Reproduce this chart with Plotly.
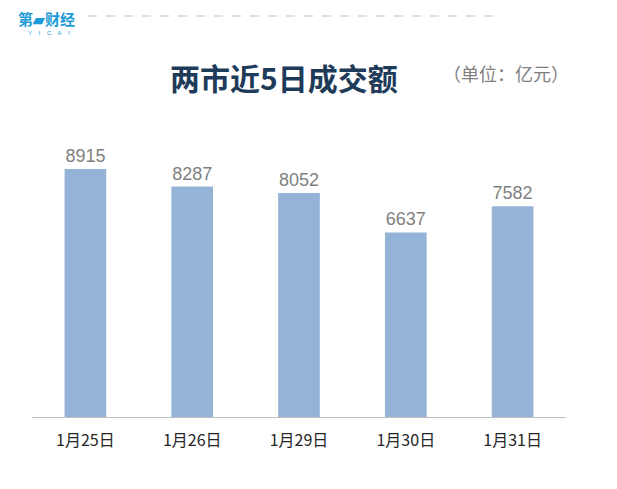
import plotly.graph_objects as go

categories = ["1月25日", "1月26日", "1月29日", "1月30日", "1月31日"]
values = [8915, 8287, 8052, 6637, 7582]
labels = [str(v) for v in values]

OFF = 8  # page body margin
W, H = 617 - OFF, 489 - OFF
# target plot area in screen px
SX0, SX1, SY0, SY1 = 32, 566, 100, 417
L, T = SX0 - OFF, SY0 - OFF
R = W - (SX1 - OFF)
B = H - (SY1 - OFF)
pw, ph = W - L - R, H - T - B

def px(x):
    return (x - SX0) / pw

def py(y):
    return (SY1 - y) / ph

fig = go.Figure()
fig.add_trace(go.Bar(
    x=categories, y=values, text=labels, textposition="outside",
    textfont=dict(family="Liberation Sans, Arial, sans-serif", size=18, color="#7f7f7f"),
    marker=dict(color="#95B3D7", line=dict(width=0)),
    cliponaxis=False,
))

fig.update_layout(
    width=W, height=H,
    margin=dict(l=L, r=R, t=T, b=B),
    paper_bgcolor="white", plot_bgcolor="white",
    bargap=0.61,
    showlegend=False,
    xaxis=dict(showline=True, linecolor="#bfbfbf", linewidth=1, ticks="",
               tickfont=dict(family="Noto Sans CJK SC, sans-serif", size=16, color="#262626"),
               ticklabelstandoff=9, showgrid=False, fixedrange=True),
    yaxis=dict(range=[0, 11400], visible=False, showgrid=False, fixedrange=True),
    annotations=[
        dict(text="<b>两市近5日成交额</b>", x=px(284), y=py(77), xref="paper", yref="paper",
             showarrow=False, xanchor="center", yanchor="middle",
             font=dict(family="Noto Sans CJK SC, sans-serif", size=30, color="#1F3B5A")),
        dict(text="（单位：亿元）", x=px(506), y=py(73), xref="paper", yref="paper",
             showarrow=False, xanchor="center", yanchor="middle",
             font=dict(family="Noto Sans CJK SC, sans-serif", size=18, color="#7f7f7f")),
        dict(text="<b>第▰财经</b>", x=px(17), y=py(18.5), xref="paper", yref="paper",
             showarrow=False, xanchor="left", yanchor="middle", borderpad=0,
             font=dict(family="Noto Sans CJK SC, sans-serif", size=15, color="#1E9BD7")),
        dict(text="Y    I    C    A    I", x=px(49), y=py(33), xref="paper", yref="paper",
             showarrow=False, xanchor="center", yanchor="middle",
             font=dict(family="Liberation Sans, sans-serif", size=6, color="#1E9BD7")),
    ],
    shapes=[
        dict(type="line", xref="paper", yref="paper", x0=px(88), x1=px(497),
             y0=py(16), y1=py(16), line=dict(color="#bfbfbf", width=1, dash="dash")),
    ],
)

fig.write_html("out.html")
